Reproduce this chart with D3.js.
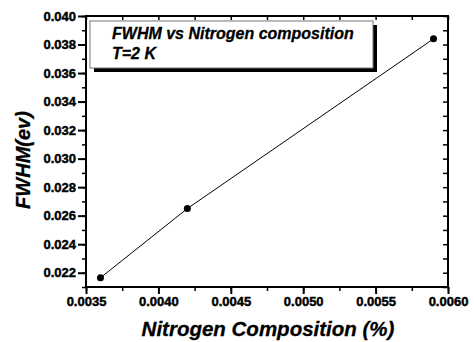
<!DOCTYPE html>
<html>
<head>
<meta charset="utf-8">
<script src="https://cdn.jsdelivr.net/npm/d3@7"></script>
<style>
body { margin: 0; background: #fff; }
text { font-family: "Liberation Sans", Arial, sans-serif; font-weight: bold; stroke: #000; stroke-width: 0.3px; }
</style>
</head>
<body>
<div id="chart"></div>
<script>
// data
const nitrogen = [0.0036, 0.0042, 0.0059];
const fwhm = [0.02165, 0.0265, 0.0384];
const xTicks = [0.0035, 0.0040, 0.0045, 0.0050, 0.0055, 0.0060];
const yTicks = [0.022, 0.024, 0.026, 0.028, 0.030, 0.032, 0.034, 0.036, 0.038, 0.040];
const legendLines = ["FWHM vs Nitrogen composition", "T=2 K"];

const W = 474, H = 342;
const mLeft = 86, mRight = 448, mTop = 16, mBottom = 287;
const FONT = "'Liberation Sans', Arial, sans-serif";

const svg = d3.select("#chart").append("svg")
	.attr("width", W)
	.attr("height", H);

const x = d3.scaleLinear().domain([0.0035, 0.0060]).range([mLeft, mRight]);
const y = d3.scaleLinear().domain([0.021, 0.040]).range([mBottom, mTop]);

const xMinor = d3.range(0, 11).map(i => 0.0035 + i * 0.00025);
const yMinor = d3.range(0, 20).map(i => 0.021 + i * 0.001);

function styleLabels(g) {
	g.selectAll("text")
		.attr("font-size", 13)
		.attr("font-weight", "bold")
		.attr("font-family", FONT)
		.attr("fill", "#000")
		.style("stroke-width", "0.45px");
}

// bottom axis: minor ticks, then major ticks + labels
svg.append("g")
	.attr("transform", `translate(0,${mBottom})`)
	.call(d3.axisBottom(x).tickValues(xMinor).tickSize(4).tickFormat(""))
	.call(g => g.select(".domain").remove())
	.selectAll("line").attr("stroke-width", 1.5);

svg.append("g")
	.attr("transform", `translate(0,${mBottom})`)
	.call(d3.axisBottom(x).tickValues(xTicks).tickSize(7).tickPadding(3).tickFormat(d3.format(".4f")))
	.call(g => g.select(".domain").remove())
	.call(g => g.selectAll("line").attr("stroke-width", 2))
	.call(styleLabels);

// left axis
svg.append("g")
	.attr("transform", `translate(${mLeft},0)`)
	.call(d3.axisLeft(y).tickValues(yMinor).tickSize(4).tickFormat(""))
	.call(g => g.select(".domain").remove())
	.selectAll("line").attr("stroke-width", 1.5);

svg.append("g")
	.attr("transform", `translate(${mLeft},0)`)
	.call(d3.axisLeft(y).tickValues(yTicks).tickSize(8).tickPadding(2).tickFormat(d3.format(".3f")))
	.call(g => g.select(".domain").remove())
	.call(g => g.selectAll("line").attr("stroke-width", 2))
	.call(styleLabels);

// top and right axes, ticks inward
svg.append("g")
	.attr("transform", `translate(0,${mTop})`)
	.call(d3.axisBottom(x).tickValues(xMinor).tickSize(4).tickFormat(""))
	.call(g => g.select(".domain").remove())
	.selectAll("line").attr("stroke-width", 1.5);

svg.append("g")
	.attr("transform", `translate(${mRight},0)`)
	.call(d3.axisLeft(y).tickValues(yMinor).tickSize(5).tickFormat(""))
	.call(g => g.select(".domain").remove())
	.selectAll("line").attr("stroke-width", 1.5);

// frame
svg.append("rect")
	.attr("x", mLeft).attr("y", mTop)
	.attr("width", mRight - mLeft).attr("height", mBottom - mTop)
	.attr("fill", "none").attr("stroke", "#000").attr("stroke-width", 2);

// data line + points
const pts = nitrogen.map((v, i) => [v, fwhm[i]]);
svg.append("path")
	.datum(pts)
	.attr("fill", "none")
	.attr("stroke", "#000")
	.attr("stroke-width", 1)
	.attr("d", d3.line().x(d => x(d[0])).y(d => y(d[1])));

svg.selectAll("circle.pt")
	.data(pts)
	.enter()
	.append("circle")
	.attr("class", "pt")
	.attr("cx", d => x(d[0]))
	.attr("cy", d => y(d[1]))
	.attr("r", 3.5)
	.attr("fill", "#000");

// legend box with shadow
const lg = svg.append("g");
lg.append("rect")
	.attr("x", 94).attr("y", 25).attr("width", 283).attr("height", 47)
	.attr("fill", "#000");
lg.append("rect")
	.attr("x", 90).attr("y", 21).attr("width", 283).attr("height", 47)
	.attr("fill", "#fff").attr("stroke", "#777").attr("stroke-width", 1);
lg.selectAll("text")
	.data(legendLines)
	.enter()
	.append("text")
	.attr("x", 112)
	.attr("y", (d, i) => 39 + i * 20)
	.attr("font-size", 16)
	.attr("font-style", "italic")
	.text(d => d);

// axis titles
svg.append("text")
	.attr("x", 268)
	.attr("y", 336)
	.attr("text-anchor", "middle")
	.attr("font-size", 20.5)
	.attr("font-style", "italic")
	.text("Nitrogen Composition (%)");

svg.append("text")
	.attr("transform", "translate(30,160) rotate(-90)")
	.attr("text-anchor", "middle")
	.attr("font-size", 20)
	.attr("font-style", "italic")
	.text("FWHM(ev)");
</script>
</body>
</html>
